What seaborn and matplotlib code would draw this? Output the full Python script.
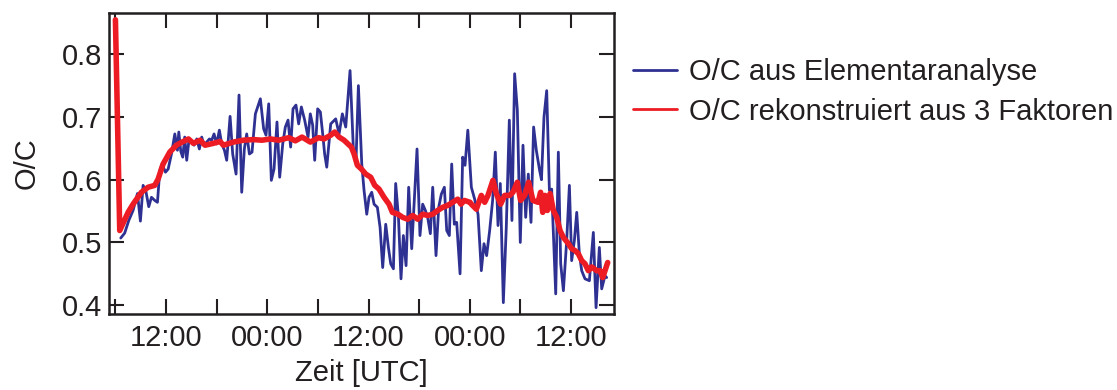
import matplotlib
matplotlib.use("Agg")
import matplotlib.pyplot as plt
import seaborn as sns

# Measured O/C from elemental analysis (time in hours since 00:00 UTC of day 1)
hours_measured = [
    6.63, 7.10, 7.58, 8.09, 8.61, 8.96, 9.28, 9.59, 9.95, 10.27, 10.66, 10.98,
    11.26, 11.53, 11.93, 12.25, 12.64, 13.04, 13.35, 13.51, 13.75, 13.98, 14.21,
    14.45, 14.73, 15.04, 15.32, 15.64, 15.95, 16.23, 16.50, 16.82, 17.14, 17.41,
    17.69, 18.00, 18.32, 18.60, 18.92, 19.19, 19.59, 19.90, 20.30, 20.65, 20.97,
    21.28, 21.56, 21.88, 22.19, 22.59, 23.18, 23.57, 23.85, 24.17, 24.48, 24.80,
    25.15, 25.47, 25.83, 26.14, 26.46, 26.77, 27.05, 27.40, 27.72, 28.04, 28.43,
    28.83, 29.10, 29.38, 29.62, 29.97, 30.29, 30.57, 30.80, 31.05, 31.52, 32.11,
    32.51, 32.90, 33.30, 33.81, 34.21, 34.52, 34.80, 35.20, 35.47, 35.79, 36.06,
    36.38, 36.66, 37.05, 37.37, 37.68, 38.04, 38.36, 38.63, 38.95, 39.22, 39.55,
    39.85, 40.13, 40.45, 40.76, 41.12, 41.43, 41.75, 42.10, 42.42, 42.74, 43.01,
    43.33, 43.61, 44.00, 44.32, 44.63, 44.99, 45.27, 45.58, 45.86, 46.17, 46.45,
    46.85, 47.16, 47.44, 47.77, 48.19, 48.58, 48.98, 49.37, 49.69, 50.00, 50.36,
    50.71, 51.03, 51.35, 51.62, 51.98, 52.33, 52.69, 53.00, 53.32, 53.64, 53.99,
    54.31, 54.63, 54.94, 55.26, 55.57, 55.89, 56.28, 56.50, 56.80, 57.12, 57.44,
    57.71, 58.19, 58.50, 58.78, 59.10, 59.49, 59.81, 60.08, 60.40, 60.68, 60.99,
    61.27, 61.66, 62.18, 62.65, 62.97, 63.36, 63.64, 64.03, 64.23,
]
oc_measured = [
    0.507, 0.515, 0.535, 0.551, 0.578, 0.534, 0.591, 0.583, 0.557, 0.572, 0.567, 0.564,
    0.615, 0.625, 0.612, 0.617, 0.641, 0.673, 0.647, 0.676, 0.645, 0.636, 0.668,
    0.631, 0.665, 0.660, 0.655, 0.665, 0.649, 0.668, 0.655, 0.660, 0.665, 0.663,
    0.673, 0.657, 0.679, 0.657, 0.647, 0.631, 0.701, 0.641, 0.609, 0.735, 0.580,
    0.649, 0.673, 0.641, 0.644, 0.705, 0.729, 0.681, 0.671, 0.721, 0.599, 0.617,
    0.692, 0.604, 0.657, 0.684, 0.695, 0.652, 0.713, 0.719, 0.689, 0.716, 0.695,
    0.668, 0.705, 0.687, 0.631, 0.713, 0.708, 0.673, 0.641, 0.620, 0.689, 0.697,
    0.673, 0.705, 0.684, 0.774, 0.647, 0.631, 0.750, 0.625, 0.583, 0.545, 0.572,
    0.580, 0.561, 0.556, 0.524, 0.460, 0.529, 0.492, 0.466, 0.458, 0.594, 0.540,
    0.442, 0.511, 0.463, 0.588, 0.490, 0.567, 0.649, 0.511, 0.561, 0.551, 0.540,
    0.514, 0.588, 0.479, 0.556, 0.577, 0.588, 0.519, 0.511, 0.625, 0.529, 0.532,
    0.450, 0.636, 0.623, 0.679, 0.588, 0.569, 0.545, 0.455, 0.498, 0.479, 0.519,
    0.567, 0.644, 0.527, 0.594, 0.404, 0.524, 0.695, 0.535, 0.769, 0.711, 0.500,
    0.655, 0.540, 0.609, 0.532, 0.684, 0.647, 0.615, 0.600, 0.700, 0.742, 0.583,
    0.585, 0.418, 0.644, 0.466, 0.423, 0.503, 0.591, 0.471, 0.503, 0.548, 0.482,
    0.455, 0.442, 0.439, 0.516, 0.396, 0.492, 0.426, 0.447, 0.444,
]

# O/C reconstructed from the three PMF factors
hours_recon = [
    6.00, 6.51, 7.50, 8.09, 9.08, 9.87, 10.66, 11.06, 11.65, 12.44, 13.23, 13.90,
    14.65, 15.24, 16.03, 16.62, 17.61, 18.40, 18.80, 19.98, 21.17, 22.35, 23.38,
    24.36, 25.35, 26.54, 27.33, 28.12, 29.10, 30.09, 30.73, 31.52, 31.99, 32.51,
    33.10, 33.57, 33.97, 34.29, 34.68, 35.16, 35.67, 36.26, 36.74, 37.25, 37.84,
    38.43, 38.83, 39.50, 40.05, 40.64, 41.24, 41.83, 42.42, 43.01, 43.61, 44.20,
    44.79, 45.38, 45.98, 46.57, 46.96, 47.36, 48.03, 48.19, 48.78, 49.37, 49.77,
    50.16, 50.75, 51.15, 51.66, 52.14, 52.73, 53.12, 53.64, 54.03, 54.51, 54.98,
    55.49, 56.09, 56.40, 56.65, 56.92, 57.20, 57.52, 57.91, 58.31, 58.70, 59.10,
    59.69, 60.08, 60.48, 60.87, 61.27, 61.66, 62.06, 62.45, 63.05, 63.44, 63.76,
    64.03, 64.35,
]
oc_recon = [
    0.855, 0.519, 0.548, 0.561, 0.580, 0.588, 0.591, 0.601, 0.625, 0.644, 0.655, 0.660,
    0.665, 0.658, 0.663, 0.655, 0.658, 0.661, 0.655, 0.660, 0.663, 0.664, 0.663,
    0.665, 0.663, 0.667, 0.662, 0.668, 0.660, 0.667, 0.665, 0.671, 0.676, 0.668,
    0.663, 0.657, 0.652, 0.641, 0.623, 0.617, 0.609, 0.604, 0.591, 0.585, 0.572,
    0.561, 0.548, 0.545, 0.540, 0.537, 0.543, 0.537, 0.545, 0.543, 0.545, 0.551,
    0.556, 0.559, 0.564, 0.569, 0.561, 0.567, 0.564, 0.561, 0.553, 0.575, 0.564,
    0.575, 0.599, 0.578, 0.561, 0.575, 0.575, 0.580, 0.596, 0.567, 0.575, 0.596,
    0.567, 0.564, 0.580, 0.548, 0.575, 0.551, 0.578, 0.551, 0.540, 0.519, 0.508,
    0.498, 0.490, 0.487, 0.482, 0.471, 0.466, 0.455, 0.461, 0.455, 0.455, 0.444,
    0.455, 0.468,
]

tick_hours = [6, 12, 18, 24, 30, 36, 42, 48, 54, 60]
tick_labels = ["", "12:00", "", "00:00", "", "12:00", "", "00:00", "", "12:00"]
y_ticks = [0.4, 0.5, 0.6, 0.7, 0.8]

label_measured = "O/C aus Elementaranalyse"
label_recon = "O/C rekonstruiert aus 3 Faktoren"

BLUE = "#2E3192"
RED = "#ED1C24"
INK = "#231F20"

sns.set_style("ticks")
plt.rcParams["font.family"] = ["Liberation Sans", "DejaVu Sans"]

fig = plt.figure(figsize=(11.17, 3.90), dpi=100)
ax = fig.add_axes([0.0976, 0.195, 0.4521, 0.772])

sns.lineplot(x=hours_measured, y=oc_measured, ax=ax, color=BLUE,
             linewidth=2.0, label=label_measured)
sns.lineplot(x=hours_recon, y=oc_recon, ax=ax, color=RED,
             linewidth=4.0, label=label_recon)

ax.set_xlim(5.24, 65.1)
ax.set_ylim(0.386, 0.866)
ax.set_xticks(tick_hours)
ax.set_xticklabels(tick_labels)
ax.set_yticks(y_ticks)
ax.set_yticklabels([f"{v:.1f}" for v in y_ticks])

fs = 21
ax.tick_params(axis="both", which="major", direction="in", length=11, width=1.5,
               labelsize=fs, top=True, right=True, color=INK, labelcolor=INK)
ax.tick_params(axis="x", pad=7)
ax.tick_params(axis="y", pad=5)
for sp in ax.spines.values():
    sp.set_linewidth(1.8)
    sp.set_color(INK)

ax.set_xlabel("Zeit [UTC]", fontsize=fs, color=INK, labelpad=5)
ax.set_ylabel("O/C", fontsize=fs, color=INK, labelpad=15)

leg = ax.legend(loc="upper left", bbox_to_anchor=(633 / 1117, 1 - 58 / 390),
                bbox_transform=fig.transFigure, frameon=False, fontsize=fs,
                handlelength=1.5, handletextpad=0.42, labelspacing=0.4,
                borderpad=0, borderaxespad=0)
for line in leg.get_lines():
    line.set_linewidth(2.0)
for t in leg.get_texts():
    t.set_color(INK)

fig.savefig("out.png", dpi=100)
